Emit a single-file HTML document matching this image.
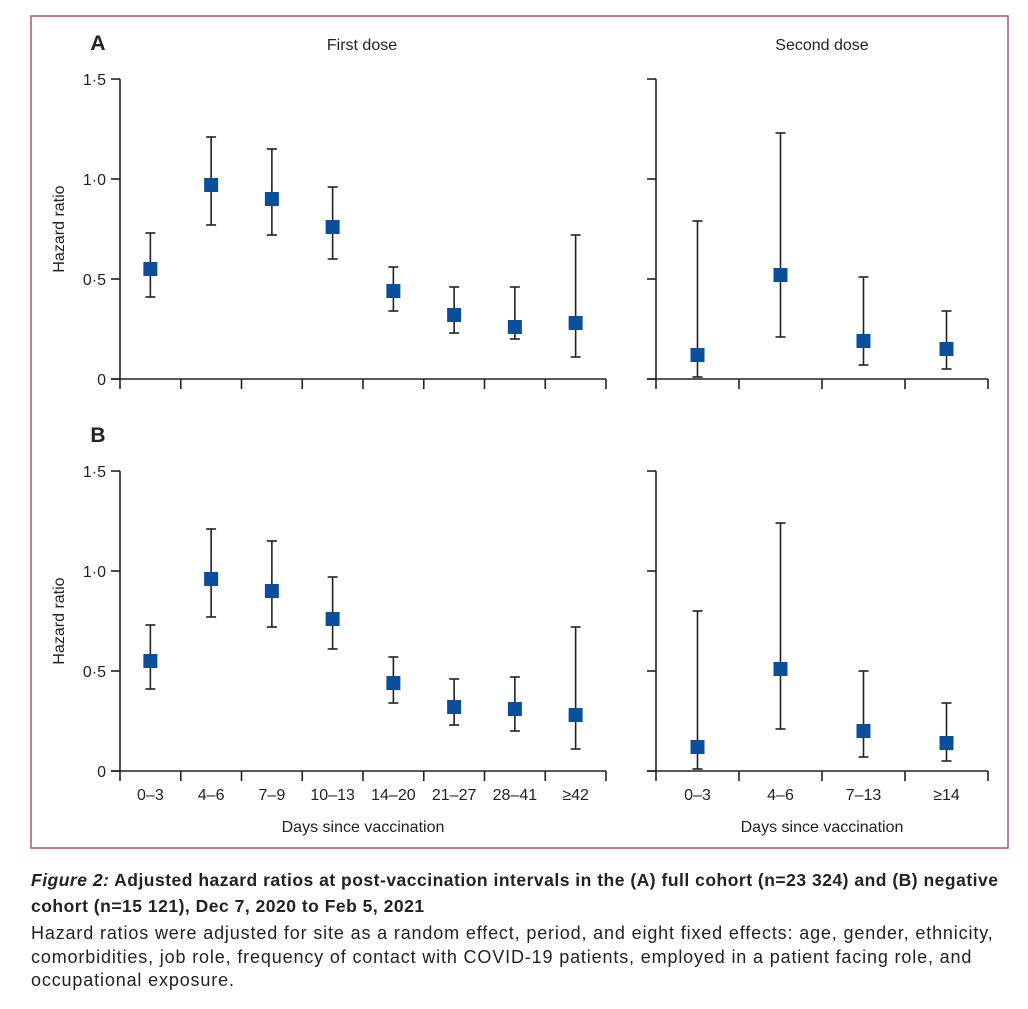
<!DOCTYPE html>
<html><head><meta charset="utf-8"><style>
body{margin:0;background:#fff;width:1028px;height:1009px;overflow:hidden;font-family:"Liberation Sans",sans-serif}
svg text{font-family:"Liberation Sans",sans-serif;fill:#222}
.cap{position:absolute;left:31px;top:867px;width:1000px;font-size:17.5px;line-height:26px;color:#222;white-space:nowrap}
.cap b{letter-spacing:0.5px}
.body{font-size:18px;letter-spacing:0.85px;line-height:23.5px;display:block;margin-top:3px}
</style></head><body>
<svg width="1028" height="860" style="position:absolute;left:0;top:0">
<rect x="31" y="16" width="977" height="832" fill="none" stroke="#a8557f" stroke-width="1.5"/>
<g id="g"></g>
</svg>
<div class="cap"><b><i>Figure 2:</i> Adjusted hazard ratios at post-vaccination intervals in the (A) full cohort (n=23 324) and (B) negative<br>cohort (n=15 121), Dec 7, 2020 to Feb 5, 2021</b><br><span class="body">Hazard ratios were adjusted for site as a random effect, period, and eight fixed effects: age, gender, ethnicity,<br>comorbidities, job role, frequency of contact with COVID-19 patients, employed in a patient facing role, and<br>occupational exposure.</span></div>
<script>
const firstCats=["0–3","4–6","7–9","10–13","14–20","21–27","28–41","≥42"];
const secondCats=["0–3","4–6","7–13","≥14"];
const yTicks=[0,0.5,1.0,1.5];
const yTickLabels=["0","0·5","1·0","1·5"];
const aFirstHR=[0.55,0.97,0.90,0.76,0.44,0.32,0.26,0.28];
const aFirstLo=[0.41,0.77,0.72,0.60,0.34,0.23,0.20,0.11];
const aFirstHi=[0.73,1.21,1.15,0.96,0.56,0.46,0.46,0.72];
const aSecondHR=[0.12,0.52,0.19,0.15];
const aSecondLo=[0.01,0.21,0.07,0.05];
const aSecondHi=[0.79,1.23,0.51,0.34];
const bFirstHR=[0.55,0.96,0.90,0.76,0.44,0.32,0.31,0.28];
const bFirstLo=[0.41,0.77,0.72,0.61,0.34,0.23,0.20,0.11];
const bFirstHi=[0.73,1.21,1.15,0.97,0.57,0.46,0.47,0.72];
const bSecondHR=[0.12,0.51,0.20,0.14];
const bSecondLo=[0.01,0.21,0.07,0.05];
const bSecondHi=[0.80,1.24,0.50,0.34];

const NS="http://www.w3.org/2000/svg";
const G=document.getElementById('g');
function mk(t,a,p){const e=document.createElementNS(NS,t);for(const k in a)e.setAttribute(k,a[k]);(p||G).appendChild(e);return e;}
function line(x1,y1,x2,y2,p){return mk('line',{x1,y1,x2,y2,stroke:'#222','stroke-width':1.6},p);}
function txt(x,y,s,size,anchor,p,extra){const e=mk('text',Object.assign({x,y,'font-size':size,'text-anchor':anchor||'middle'},extra||{}),p);e.textContent=s;return e;}

function panel(name,x0,x1,y0,cats,hr,lo,hi,showY,showX,title,titleX){
  const g=mk('g',{});
  
  
  const yS=v=>y0-v*200;
  const bw=(x1-x0)/cats.length;
  const xS=i=>x0+bw*(i+0.5);
  const ya=line(x0,yS(1.5),x0,y0,g);
  
  
  yTicks.forEach((v,i)=>{line(x0-9,yS(v),x0,yS(v),g);
    if(showY){const t=txt(x0-14,yS(v)+6,yTickLabels[i],16,'end',g);
      
      }});
  const xa=line(x0-9,y0,x1,y0,g);
  
  
  for(let i=0;i<=cats.length;i++)line(x0+bw*i,y0,x0+bw*i,y0+10,g);
  if(showX){cats.forEach((c,i)=>{const t=txt(xS(i),y0+29,c,16,'middle',g);
      
      });
    const t=txt((x0+x1)/2,y0+61,'Days since vaccination',16,'middle',g);
    
    }
  if(showY){const t=txt(0,0,'Hazard ratio',16,'middle',g,{transform:`translate(64,${yS(0.75)}) rotate(-90)`});
    
    }
  if(title){const t=txt(titleX,yS(1.5)-29,title,16,'middle',g);
    
    }
  hr.forEach((v,i)=>{const x=xS(i);
    const eb=mk('g',{},g);
    
    
    line(x,yS(hi[i]),x,yS(lo[i]),eb);
    line(x-5,yS(hi[i]),x+5,yS(hi[i]),eb);
    line(x-5,yS(lo[i]),x+5,yS(lo[i]),eb);
    const r=mk('rect',{x:x-7,y:yS(v)-7,width:14,height:14,fill:'#0b4f9c'},g);
    
    });
}
panel('panel-a-first-dose',120,606,379,firstCats,aFirstHR,aFirstLo,aFirstHi,true,false,'First dose',362);
panel('panel-a-second-dose',656,988,379,secondCats,aSecondHR,aSecondLo,aSecondHi,false,false,'Second dose',822);
panel('panel-b-first-dose',120,606,771,firstCats,bFirstHR,bFirstLo,bFirstHi,true,true,null,0);
panel('panel-b-second-dose',656,988,771,secondCats,bSecondHR,bSecondLo,bSecondHi,false,true,null,0);
let t=txt(98,50,'A',21,'middle',G,{'font-weight':'bold'});


t=txt(98,442,'B',21,'middle',G,{'font-weight':'bold'});


</script>
</body></html>
